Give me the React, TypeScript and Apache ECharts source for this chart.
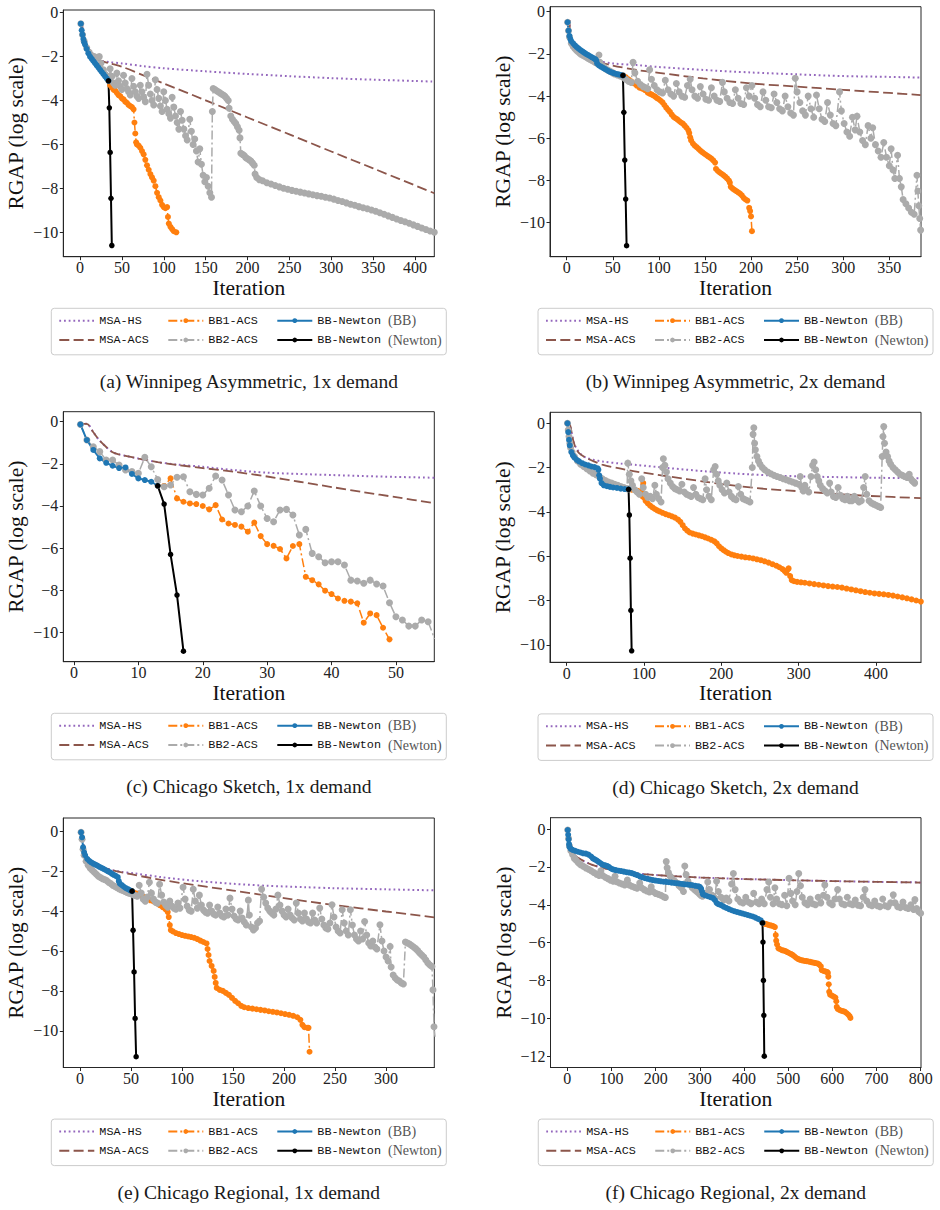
import React, { useEffect, useRef } from "react";
import * as echarts from "echarts";

type Pt = [number, number];

// ---------- (a) Winnipeg Asymmetric, 1x demand ----------
const aMsaHs: Pt[] = [[2,-0.4],[4,-1.0],[6,-1.3],[10,-1.6],[16,-1.93],[24,-2.17],[35,-2.25],[50,-2.31],[75,-2.43],[100,-2.53],[150,-2.67],[200,-2.79],[250,-2.89],[300,-2.98],[350,-3.05],[400,-3.11],[423,-3.14]];
const aMsaAcs: Pt[] = [[2,-0.4],[4,-1.0],[6,-1.3],[10,-1.6],[16,-1.93],[24,-2.17],[35,-2.3],[50,-2.46],[75,-2.84],[100,-3.22],[150,-3.99],[200,-4.77],[250,-5.54],[300,-6.32],[350,-7.09],[423,-8.22]];
const aBb1: Pt[] = [[34,-3.1],[36,-3.3],[38,-3.4],[40,-3.5],[42,-3.55],[44,-3.65],[46,-3.75],[48,-3.8],[50,-3.9],[52,-3.95],[54,-4.05],[56,-4.1],[58,-4.2],[60,-4.25],[62,-4.3],[64,-4.4],[65,-5.0],[66,-5.5],[67,-5.9],[68,-6.0],[70,-6.05],[72,-6.15],[74,-6.3],[76,-6.45],[78,-6.7],[80,-6.95],[82,-7.15],[84,-7.35],[86,-7.5],[88,-7.65],[90,-7.9],[92,-8.2],[94,-8.4],[96,-8.55],[98,-8.75],[100,-8.85],[102,-8.9],[104,-8.85],[105,-9.3],[106,-9.6],[108,-9.75],[110,-9.85],[112,-9.95],[115,-10.0]];
const aBb2: Pt[] = [[1,-0.5],[3,-1.0],[5,-1.3],[8,-1.6],[11,-1.8],[14,-1.95],[17,-2.0],[20,-2.05],[23,-2.0],[25,-2.3],[28,-2.6],[30,-2.8],[33,-2.9],[35,-3.0],[36,-2.55],[38,-2.9],[40,-3.2],[42,-3.3],[44,-2.75],[46,-3.1],[48,-3.35],[50,-3.5],[52,-2.85],[54,-3.2],[56,-3.45],[58,-3.6],[60,-3.75],[62,-3.0],[64,-3.35],[66,-3.6],[68,-3.8],[70,-3.9],[72,-3.3],[74,-3.6],[76,-3.85],[78,-4.05],[80,-2.8],[82,-3.3],[84,-3.7],[86,-4.0],[88,-4.2],[90,-3.05],[92,-3.5],[94,-3.9],[96,-4.25],[98,-4.5],[100,-3.6],[102,-4.0],[104,-4.4],[106,-4.6],[108,-4.8],[110,-3.85],[112,-4.3],[114,-4.7],[116,-5.0],[118,-5.3],[120,-4.5],[122,-4.9],[124,-5.3],[126,-5.6],[128,-5.8],[131,-4.85],[133,-5.4],[135,-6.0],[137,-5.75],[139,-6.3],[141,-6.8],[143,-6.2],[145,-6.9],[147,-7.4],[149,-7.7],[151,-7.5],[153,-7.9],[155,-8.2],[157,-8.4],[158,-4.5],[159,-3.45],[161,-3.5],[163,-3.55],[165,-3.6],[167,-3.65],[169,-3.7],[171,-3.75],[173,-3.8],[175,-3.9],[177,-4.0],[178,-4.35],[180,-4.7],[182,-4.85],[184,-4.95],[186,-5.05],[188,-5.2],[190,-5.35],[191,-5.7],[192,-6.4],[194,-6.45],[196,-6.5],[198,-6.6],[200,-6.65],[202,-6.7],[204,-6.75],[206,-6.85],[208,-6.95],[209,-7.35],[211,-7.5],[214,-7.6],[218,-7.65],[223,-7.74],[228,-7.8],[233,-7.87],[238,-7.93],[243,-7.99],[248,-8.04],[253,-8.09],[258,-8.13],[263,-8.17],[268,-8.21],[273,-8.25],[278,-8.29],[283,-8.33],[288,-8.36],[293,-8.4],[298,-8.44],[303,-8.49],[308,-8.55],[313,-8.6],[318,-8.66],[323,-8.72],[328,-8.77],[333,-8.83],[338,-8.88],[343,-8.93],[348,-8.98],[353,-9.04],[358,-9.11],[363,-9.18],[368,-9.25],[373,-9.32],[378,-9.39],[383,-9.46],[388,-9.52],[393,-9.59],[398,-9.66],[403,-9.73],[408,-9.8],[413,-9.87],[418,-9.94],[423,-10.0]];
const aNewtonBb: Pt[] = [[1,-0.5],[2,-0.8],[3,-1.0],[4,-1.2],[5,-1.35],[6,-1.45],[8,-1.65],[10,-1.85],[12,-2.0],[14,-2.1],[16,-2.2],[18,-2.3],[20,-2.4],[22,-2.5],[24,-2.6],[26,-2.7],[28,-2.8],[30,-2.9],[32,-3.0],[34,-3.1]];
const aNewtonN: Pt[] = [[34,-3.1],[35,-4.33],[36,-6.36],[37,-8.45],[38,-10.6]];

// ---------- (b) Winnipeg Asymmetric, 2x demand ----------
const bMsaHs: Pt[] = [[3,-0.4],[4,-1.2],[6,-1.5],[10,-1.8],[15,-2.0],[20,-2.12],[30,-2.3],[50,-2.45],[76,-2.53],[100,-2.62],[148,-2.76],[200,-2.88],[250,-2.97],[300,-3.05],[350,-3.09],[384,-3.12]];
const bMsaAcs: Pt[] = [[3,-0.4],[4,-1.2],[6,-1.5],[10,-1.78],[15,-2.0],[20,-2.12],[30,-2.32],[50,-2.55],[76,-2.76],[100,-2.9],[148,-3.16],[200,-3.4],[250,-3.55],[300,-3.7],[350,-3.85],[384,-3.95]];
const bBb1: Pt[] = [[61,-3.02],[64,-3.1],[67,-3.2],[70,-3.3],[73,-3.4],[76,-3.5],[79,-3.6],[82,-3.65],[85,-3.72],[88,-3.84],[90,-3.88],[92,-3.92],[94,-3.97],[96,-4.02],[98,-4.1],[100,-4.15],[102,-4.22],[104,-4.3],[106,-4.42],[108,-4.55],[110,-4.65],[112,-4.75],[114,-4.88],[116,-4.98],[118,-5.05],[120,-5.1],[122,-5.18],[124,-5.25],[126,-5.3],[128,-5.4],[130,-5.5],[132,-5.62],[133,-5.75],[134,-5.95],[135,-6.1],[137,-6.25],[139,-6.35],[141,-6.42],[143,-6.5],[145,-6.58],[147,-6.65],[149,-6.72],[151,-6.78],[153,-6.84],[155,-6.9],[157,-6.96],[159,-7.05],[161,-7.15],[162,-7.45],[164,-7.55],[166,-7.62],[168,-7.68],[170,-7.74],[172,-7.82],[174,-7.9],[176,-8.0],[177,-8.1],[178,-8.3],[180,-8.38],[182,-8.44],[184,-8.5],[186,-8.56],[188,-8.62],[190,-8.7],[192,-8.82],[194,-8.9],[196,-8.95],[198,-9.3],[199,-9.45],[200,-9.7],[201,-10.4]];
const bBb2: Pt[] = [[1,-0.5],[2,-0.9],[3,-1.2],[5,-1.5],[7,-1.65],[9,-1.75],[11,-1.85],[13,-1.92],[15,-2.0],[17,-2.05],[19,-2.1],[21,-2.15],[23,-2.2],[25,-2.25],[27,-2.3],[29,-2.35],[31,-2.4],[33,-2.45],[35,-2.05],[36,-2.4],[38,-2.55],[40,-2.6],[42,-2.7],[44,-2.75],[46,-2.8],[48,-2.85],[50,-2.9],[52,-2.95],[55,-3.0],[58,-3.05],[61,-3.1],[64,-3.2],[67,-3.3],[70,-3.35],[72,-2.4],[74,-2.9],[77,-3.3],[80,-3.45],[83,-3.55],[86,-3.6],[88,-3.65],[90,-2.75],[92,-3.2],[95,-3.5],[98,-3.7],[101,-3.8],[104,-3.85],[107,-3.25],[110,-3.7],[113,-3.9],[116,-4.0],[119,-3.4],[122,-3.8],[125,-4.0],[128,-4.05],[131,-3.5],[134,-3.2],[136,-3.7],[139,-4.0],[142,-4.1],[145,-3.55],[148,-3.9],[151,-4.15],[154,-4.2],[157,-3.6],[160,-4.0],[163,-4.2],[166,-4.25],[169,-3.35],[171,-3.8],[174,-4.1],[177,-4.3],[180,-4.35],[183,-3.7],[186,-4.1],[189,-4.35],[192,-4.4],[195,-3.6],[198,-4.0],[201,-3.5],[204,-4.1],[207,-4.4],[210,-4.5],[213,-3.8],[216,-4.2],[219,-4.5],[222,-4.55],[225,-3.9],[228,-4.3],[231,-4.6],[234,-4.7],[237,-4.0],[240,-4.5],[243,-4.8],[246,-4.9],[248,-3.15],[250,-3.8],[253,-4.3],[256,-4.7],[259,-4.9],[262,-4.0],[265,-4.6],[268,-5.0],[271,-3.95],[274,-4.6],[277,-5.1],[280,-5.2],[283,-4.3],[286,-4.9],[289,-5.3],[292,-5.4],[296,-3.8],[298,-4.7],[301,-5.3],[304,-5.7],[307,-5.9],[310,-5.0],[313,-5.6],[315,-4.95],[318,-5.7],[321,-6.1],[324,-6.3],[327,-5.4],[330,-6.0],[332,-5.5],[335,-6.3],[338,-6.6],[341,-6.9],[344,-6.2],[347,-6.9],[350,-7.3],[352,-6.5],[354,-7.5],[356,-7.9],[359,-6.8],[361,-7.9],[363,-8.3],[365,-8.9],[368,-9.1],[371,-9.3],[374,-9.5],[377,-9.6],[380,-7.75],[381,-8.5],[382,-9.2],[383,-9.8],[384,-10.35]];
const bNewtonBb: Pt[] = [[1,-0.5],[2,-0.9],[3,-1.15],[4,-1.3],[5,-1.4],[7,-1.5],[9,-1.6],[11,-1.68],[13,-1.75],[15,-1.82],[17,-1.88],[19,-1.94],[21,-2.0],[23,-2.05],[25,-2.1],[27,-2.15],[29,-2.2],[31,-2.25],[32,-2.3],[33,-2.45],[35,-2.55],[37,-2.6],[39,-2.65],[41,-2.7],[43,-2.75],[45,-2.8],[47,-2.85],[49,-2.88],[51,-2.91],[53,-2.94],[55,-2.96],[57,-2.98],[59,-3.0],[61,-3.02]];
const bNewtonN: Pt[] = [[61,-3.02],[62,-4.77],[63,-7.03],[64,-8.88],[65,-11.09]];

// ---------- (c) Chicago Sketch, 1x demand ----------
const cMsaHs: Pt[] = [[1,-0.1],[2,-0.1],[3,-0.5],[4,-0.9],[5,-1.2],[6,-1.45],[7,-1.55],[8,-1.62],[10,-1.75],[13,-1.92],[16,-2.03],[20,-2.14],[25,-2.3],[30,-2.42],[35,-2.48],[40,-2.53],[45,-2.58],[50,-2.62],[56,-2.66]];
const cMsaAcs: Pt[] = [[1,-0.1],[2,-0.1],[3,-0.5],[4,-0.9],[5,-1.2],[6,-1.45],[7,-1.55],[8,-1.62],[10,-1.75],[13,-1.92],[16,-2.05],[20,-2.2],[25,-2.38],[30,-2.6],[35,-2.85],[40,-3.1],[45,-3.35],[50,-3.58],[56,-3.87]];
const cBb1: Pt[] = [[13,-3.04],[14,-3.05],[15,-2.69],[16,-3.64],[17,-3.8],[18,-3.88],[19,-3.91],[20,-4.0],[21,-4.16],[22,-3.96],[23,-4.64],[24,-4.83],[25,-4.9],[26,-4.98],[27,-5.22],[28,-4.79],[29,-5.43],[30,-5.81],[31,-5.89],[32,-6.04],[33,-6.49],[34,-5.9],[35,-5.81],[36,-7.36],[37,-7.52],[38,-7.72],[39,-8.02],[40,-8.18],[41,-8.39],[42,-8.5],[43,-8.54],[44,-8.62],[45,-9.54],[46,-9.1],[47,-9.18],[48,-9.78],[49,-10.33]];
const cBb2: Pt[] = [[1,-0.13],[2,-0.87],[3,-1.19],[4,-1.42],[5,-1.82],[6,-1.82],[7,-2.06],[8,-2.29],[9,-2.37],[10,-2.45],[11,-1.69],[12,-2.14],[13,-2.74],[14,-3.09],[15,-3.0],[16,-2.64],[17,-2.61],[18,-3.32],[19,-3.45],[20,-3.48],[21,-3.16],[22,-2.58],[23,-2.77],[24,-3.48],[25,-4.19],[26,-4.27],[27,-4.0],[28,-3.29],[29,-4.0],[30,-4.59],[31,-4.75],[32,-4.19],[33,-4.16],[34,-4.43],[35,-5.38],[36,-5.11],[37,-6.25],[38,-6.41],[39,-6.69],[40,-6.65],[41,-6.65],[42,-6.8],[43,-7.52],[44,-7.56],[45,-7.67],[46,-7.52],[47,-7.7],[48,-7.8],[49,-8.59],[50,-9.26],[51,-9.41],[52,-9.7],[53,-9.7],[54,-9.41],[55,-9.49],[56,-10.3]];
const cNewtonBb: Pt[] = [[1,-0.13],[2,-0.87],[3,-1.34],[4,-1.74],[5,-1.95],[6,-2.09],[7,-2.2],[8,-2.17],[9,-2.48],[10,-2.69],[11,-2.77],[12,-2.85],[13,-3.04]];
const cNewtonN: Pt[] = [[13,-3.04],[14,-3.91],[15,-6.3],[16,-8.23],[17,-10.89]];

// ---------- (d) Chicago Sketch, 2x demand ----------
const dMsaHs: Pt[] = [[3,0],[5,-0.15],[7,-0.55],[9,-0.85],[12,-1.1],[16,-1.3],[20,-1.45],[26,-1.56],[35,-1.65],[47,-1.73],[70,-1.82],[90,-1.88],[134,-2.03],[177,-2.16],[220,-2.27],[263,-2.35],[306,-2.4],[349,-2.43],[400,-2.46],[458,-2.48]];
const dMsaAcs: Pt[] = [[3,0],[5,-0.15],[7,-0.55],[9,-0.85],[12,-1.15],[16,-1.35],[20,-1.45],[26,-1.58],[35,-1.72],[47,-1.88],[70,-2.05],[90,-2.18],[134,-2.41],[177,-2.63],[220,-2.83],[263,-2.98],[306,-3.08],[349,-3.19],[392,-3.28],[458,-3.38]];
const dBb1: Pt[] = [[80,-2.98],[84,-3.0],[88,-3.02],[92,-3.05],[96,-3.1],[98,-3.3],[99,-2.7],[100,-3.35],[102,-3.5],[105,-3.62],[108,-3.72],[111,-3.8],[114,-3.87],[117,-3.93],[120,-3.98],[124,-4.04],[128,-4.1],[132,-4.15],[136,-4.2],[140,-4.26],[144,-4.35],[147,-4.45],[150,-4.6],[153,-4.75],[156,-4.85],[159,-4.93],[163,-4.98],[167,-5.02],[171,-5.06],[175,-5.1],[179,-5.15],[183,-5.2],[187,-5.26],[191,-5.33],[194,-5.42],[197,-5.55],[200,-5.65],[203,-5.73],[206,-5.8],[209,-5.86],[213,-5.92],[217,-5.96],[221,-5.99],[226,-6.02],[231,-6.05],[236,-6.07],[241,-6.1],[246,-6.14],[251,-6.18],[256,-6.23],[261,-6.29],[266,-6.36],[271,-6.43],[275,-6.5],[279,-6.58],[282,-6.68],[284,-6.75],[286,-6.6],[287,-6.55],[289,-6.9],[291,-7.08],[294,-7.13],[298,-7.16],[303,-7.18],[308,-7.2],[314,-7.23],[320,-7.26],[326,-7.29],[332,-7.32],[338,-7.35],[344,-7.37],[350,-7.39],[356,-7.42],[362,-7.46],[368,-7.5],[374,-7.54],[380,-7.58],[386,-7.62],[392,-7.65],[398,-7.68],[404,-7.7],[410,-7.72],[416,-7.75],[422,-7.78],[428,-7.82],[434,-7.86],[440,-7.9],[446,-7.95],[452,-8.0],[458,-8.05]];
const dBb2: Pt[] = [[1,0],[2,-0.3],[3,-0.6],[4,-0.9],[5,-1.1],[7,-1.3],[10,-1.5],[14,-1.7],[18,-1.85],[22,-1.95],[26,-2.05],[30,-2.15],[34,-2.25],[38,-2.32],[42,-2.4],[46,-2.5],[50,-2.58],[54,-2.65],[58,-2.7],[62,-2.75],[66,-2.8],[70,-2.85],[74,-2.9],[78,-2.95],[79,-1.8],[81,-2.3],[83,-2.6],[85,-2.8],[88,-3.0],[91,-3.1],[94,-3.2],[97,-2.5],[99,-2.9],[102,-3.2],[105,-3.35],[108,-3.3],[111,-3.4],[114,-2.8],[116,-3.2],[119,-3.4],[122,-3.55],[124,-2.0],[125,-1.6],[127,-1.9],[129,-2.2],[131,-2.5],[134,-2.7],[137,-2.85],[140,-2.95],[143,-3.0],[146,-3.05],[149,-2.75],[152,-3.1],[155,-3.2],[158,-3.25],[161,-3.3],[164,-2.9],[167,-3.2],[170,-3.35],[173,-3.4],[176,-3.45],[179,-2.5],[181,-3.0],[184,-3.3],[187,-3.45],[190,-2.1],[192,-1.95],[194,-2.3],[196,-2.6],[198,-2.8],[201,-3.0],[204,-3.15],[207,-2.7],[210,-3.1],[213,-3.3],[216,-3.4],[219,-3.45],[222,-2.85],[225,-3.2],[228,-3.4],[231,-3.45],[234,-3.5],[237,-3.55],[240,-2.0],[241,-0.5],[242,-0.2],[243,-0.9],[244,-1.2],[246,-1.5],[248,-1.7],[250,-1.85],[253,-2.0],[256,-2.1],[260,-2.2],[264,-2.28],[268,-2.35],[272,-2.4],[276,-2.45],[280,-2.5],[284,-2.55],[288,-2.6],[292,-2.65],[296,-2.7],[300,-2.75],[302,-2.4],[304,-2.9],[306,-3.05],[308,-2.8],[310,-3.0],[313,-3.1],[316,-2.4],[318,-1.9],[320,-1.75],[322,-2.1],[324,-2.4],[326,-2.6],[328,-2.8],[331,-2.95],[334,-3.05],[337,-3.15],[340,-2.7],[342,-3.1],[345,-3.3],[348,-3.35],[351,-2.9],[354,-3.25],[357,-3.4],[360,-3.45],[363,-3.3],[366,-3.5],[369,-3.5],[372,-3.3],[375,-3.45],[378,-3.55],[381,-3.5],[384,-2.9],[386,-2.4],[388,-3.2],[391,-3.5],[394,-3.6],[397,-3.65],[400,-3.7],[403,-3.75],[406,-3.8],[408,-1.5],[409,-0.6],[410,-0.15],[411,-0.9],[413,-1.3],[415,-1.5],[417,-1.7],[419,-1.85],[422,-2.0],[425,-2.1],[428,-2.2],[431,-2.3],[434,-2.35],[437,-2.4],[440,-2.45],[443,-2.3],[445,-2.5],[447,-2.6],[449,-2.65],[450,-2.7]];
const dNewtonBb: Pt[] = [[1,0],[2,-0.4],[3,-0.75],[4,-1.0],[6,-1.3],[8,-1.45],[10,-1.55],[13,-1.65],[16,-1.72],[20,-1.8],[24,-1.86],[28,-1.9],[32,-1.95],[36,-1.98],[40,-2.03],[41,-2.1],[42,-2.35],[43,-2.5],[45,-2.7],[48,-2.8],[52,-2.84],[56,-2.87],[60,-2.9],[65,-2.92],[70,-2.95],[75,-2.97],[80,-2.98]];
const dNewtonN: Pt[] = [[80,-2.98],[81,-4.14],[82,-6.09],[83,-8.45],[84,-10.27]];

// ---------- (e) Chicago Regional, 1x demand ----------
const eMsaHs: Pt[] = [[1,0.05],[2,-0.3],[3,-0.6],[5,-1.0],[7,-1.25],[10,-1.45],[15,-1.62],[20,-1.75],[30,-1.93],[40,-2.03],[52,-2.1],[80,-2.3],[117,-2.5],[150,-2.63],[183,-2.73],[220,-2.8],[248,-2.85],[300,-2.91],[347,-2.96]];
const eMsaAcs: Pt[] = [[1,0.05],[2,-0.3],[3,-0.6],[5,-1.0],[7,-1.25],[10,-1.45],[15,-1.62],[20,-1.75],[30,-1.93],[40,-2.05],[50,-2.15],[70,-2.35],[100,-2.6],[150,-2.97],[200,-3.35],[250,-3.7],[300,-4.02],[347,-4.31]];
const eBb1: Pt[] = [[51,-3.0],[54,-3.1],[57,-3.15],[60,-3.22],[63,-3.3],[66,-3.4],[69,-3.46],[72,-3.52],[75,-3.6],[78,-3.7],[81,-3.8],[84,-3.92],[86,-4.05],[87,-4.3],[88,-4.7],[89,-4.95],[91,-5.02],[94,-5.1],[97,-5.15],[100,-5.2],[103,-5.24],[106,-5.27],[109,-5.3],[112,-5.34],[115,-5.4],[118,-5.48],[121,-5.55],[124,-5.62],[125,-5.9],[126,-6.2],[127,-6.5],[129,-6.75],[131,-7.0],[132,-7.3],[133,-7.6],[134,-7.85],[137,-7.95],[140,-8.0],[143,-8.1],[146,-8.2],[149,-8.35],[152,-8.5],[155,-8.62],[158,-8.75],[161,-8.82],[165,-8.86],[169,-8.89],[173,-8.92],[177,-8.95],[181,-8.98],[185,-9.02],[189,-9.05],[193,-9.08],[197,-9.12],[201,-9.16],[205,-9.2],[209,-9.25],[213,-9.32],[216,-9.45],[218,-9.7],[220,-9.82],[223,-9.85],[224,-9.85],[225,-11.05]];
const eBb2: Pt[] = [[1,-0.05],[2,-0.4],[3,-0.9],[4,-1.2],[6,-1.5],[8,-1.7],[10,-1.85],[12,-1.95],[14,-2.05],[16,-2.15],[18,-2.25],[20,-2.32],[22,-2.38],[24,-2.42],[26,-2.47],[28,-2.55],[30,-2.62],[32,-2.7],[34,-2.75],[36,-2.82],[38,-2.88],[40,-2.93],[42,-2.97],[44,-3.02],[46,-3.06],[48,-3.1],[50,-3.13],[52,-3.18],[54,-3.22],[56,-3.25],[58,-2.7],[60,-3.1],[62,-3.4],[64,-3.5],[66,-3.3],[68,-2.55],[70,-3.1],[72,-3.4],[74,-3.55],[76,-3.6],[78,-2.65],[80,-3.2],[82,-3.55],[84,-3.7],[86,-3.8],[88,-3.5],[90,-3.75],[92,-3.85],[94,-3.9],[96,-3.6],[98,-3.85],[101,-2.8],[103,-3.4],[105,-3.75],[107,-3.95],[109,-4.0],[111,-2.9],[113,-3.5],[115,-3.85],[117,-3.2],[119,-3.7],[121,-3.95],[123,-4.05],[125,-4.1],[127,-3.7],[129,-4.0],[131,-4.15],[133,-4.2],[135,-3.8],[137,-4.1],[139,-4.25],[141,-4.3],[143,-3.9],[145,-4.2],[147,-3.35],[149,-3.9],[151,-4.25],[153,-4.4],[155,-4.45],[157,-4.0],[159,-4.35],[161,-4.55],[163,-4.7],[165,-3.45],[166,-4.2],[168,-4.8],[170,-4.95],[172,-4.85],[174,-4.6],[176,-4.5],[178,-2.9],[180,-3.3],[182,-3.6],[184,-3.85],[186,-4.0],[188,-4.1],[190,-4.2],[192,-3.9],[194,-3.2],[196,-3.7],[198,-4.0],[200,-4.2],[202,-4.3],[204,-3.9],[206,-4.2],[208,-4.35],[210,-4.45],[212,-3.6],[214,-4.1],[216,-4.4],[218,-4.5],[220,-4.1],[222,-4.4],[224,-4.55],[226,-4.6],[228,-4.1],[230,-4.45],[232,-4.6],[235,-3.85],[237,-4.4],[239,-4.7],[241,-4.85],[243,-4.9],[245,-4.6],[247,-3.68],[249,-4.3],[251,-4.8],[253,-5.0],[255,-5.1],[257,-3.93],[259,-4.6],[261,-5.0],[263,-5.2],[265,-3.93],[267,-4.7],[269,-5.2],[271,-5.4],[273,-5.5],[275,-5.0],[277,-5.4],[279,-4.52],[281,-5.2],[283,-5.6],[285,-5.75],[287,-5.5],[289,-5.8],[291,-5.9],[294,-4.68],[296,-5.5],[298,-6.0],[300,-6.3],[302,-6.5],[304,-5.77],[305,-6.8],[307,-7.2],[309,-7.35],[311,-7.45],[313,-7.5],[315,-7.6],[317,-7.65],[319,-5.55],[321,-5.6],[323,-5.65],[325,-5.72],[327,-5.8],[329,-5.88],[331,-5.98],[333,-6.1],[335,-6.2],[337,-6.3],[339,-6.45],[341,-6.6],[343,-6.7],[345,-6.78],[346,-7.95],[347,-9.8],[348,-10.3]];
const eNewtonBb: Pt[] = [[1,-0.05],[2,-0.3],[3,-0.8],[4,-1.05],[5,-1.2],[7,-1.38],[9,-1.48],[11,-1.56],[13,-1.62],[15,-1.67],[17,-1.72],[19,-1.78],[21,-1.83],[23,-1.88],[25,-1.94],[27,-2.0],[29,-2.05],[31,-2.12],[33,-2.18],[35,-2.23],[37,-2.3],[38,-2.5],[39,-2.62],[41,-2.7],[43,-2.78],[45,-2.85],[47,-2.9],[49,-2.96],[51,-3.0]];
const eNewtonN: Pt[] = [[51,-3.0],[52,-4.96],[53,-7.05],[54,-9.38],[55,-11.3]];

// ---------- (f) Chicago Regional, 2x demand ----------
const fMsaHs: Pt[] = [[2,0],[4,-0.55],[6,-0.95],[10,-1.2],[15,-1.35],[20,-1.45],[30,-1.6],[45,-1.78],[60,-1.92],[80,-2.05],[100,-2.15],[130,-2.27],[160,-2.35],[200,-2.43],[250,-2.5],[300,-2.56],[400,-2.64],[500,-2.7],[600,-2.75],[700,-2.79],[800,-2.82]];
const fMsaAcs: Pt[] = [[2,0],[4,-0.55],[6,-0.95],[10,-1.2],[15,-1.35],[20,-1.45],[30,-1.6],[45,-1.78],[60,-1.92],[80,-2.05],[100,-2.15],[130,-2.27],[160,-2.35],[200,-2.43],[250,-2.5],[300,-2.56],[400,-2.64],[500,-2.7],[600,-2.75],[700,-2.79],[800,-2.83]];
const fBb1: Pt[] = [[442,-4.96],[446,-5.0],[450,-5.02],[454,-5.05],[458,-5.08],[462,-5.1],[466,-5.13],[470,-5.18],[472,-5.6],[473,-5.9],[475,-6.1],[478,-6.3],[482,-6.35],[486,-6.4],[490,-6.42],[494,-6.45],[498,-6.5],[502,-6.55],[506,-6.6],[510,-6.65],[514,-6.72],[518,-6.8],[522,-6.86],[526,-6.9],[530,-6.93],[534,-6.95],[538,-6.97],[542,-6.98],[546,-7.0],[550,-7.02],[554,-7.04],[558,-7.06],[562,-7.08],[566,-7.1],[570,-7.15],[574,-7.25],[576,-7.45],[580,-7.5],[584,-7.52],[588,-7.55],[590,-7.6],[591,-7.8],[592,-8.2],[593,-8.6],[595,-8.75],[599,-8.8],[603,-8.85],[607,-8.9],[609,-9.1],[610,-9.4],[612,-9.5],[616,-9.55],[620,-9.6],[624,-9.62],[628,-9.65],[632,-9.72],[636,-9.8],[639,-9.88],[641,-9.98]];
const fBb2: Pt[] = [[1,-0.05],[3,-0.5],[5,-0.9],[8,-1.15],[12,-1.35],[16,-1.55],[20,-1.65],[25,-1.78],[30,-1.88],[36,-1.97],[42,-2.05],[48,-2.12],[54,-2.2],[60,-2.3],[66,-2.38],[72,-2.45],[76,-2.2],[80,-2.45],[86,-2.55],[92,-2.62],[98,-2.7],[104,-2.75],[108,-2.5],[112,-2.78],[118,-2.85],[124,-2.9],[130,-2.95],[136,-2.7],[140,-2.95],[146,-3.02],[152,-3.08],[158,-3.12],[164,-2.85],[168,-3.1],[174,-3.2],[180,-3.27],[186,-3.32],[190,-3.05],[194,-3.3],[200,-3.4],[206,-3.45],[212,-3.5],[218,-3.58],[222,-3.62],[224,-1.72],[226,-2.05],[229,-2.3],[233,-2.5],[238,-2.65],[243,-2.75],[248,-2.85],[253,-3.0],[258,-3.1],[263,-3.3],[266,-1.95],[269,-2.4],[273,-2.75],[278,-2.95],[283,-3.1],[288,-3.2],[293,-3.3],[298,-3.4],[302,-3.5],[306,-3.55],[312,-3.4],[318,-2.8],[322,-3.2],[328,-3.5],[334,-3.65],[338,-2.76],[342,-3.3],[348,-3.6],[354,-3.75],[360,-3.65],[366,-3.8],[372,-2.9],[376,-2.35],[380,-3.2],[386,-3.7],[392,-3.85],[398,-3.9],[404,-3.6],[410,-3.85],[416,-3.95],[422,-3.4],[428,-3.85],[434,-3.95],[440,-3.7],[446,-3.95],[452,-3.2],[456,-2.8],[460,-3.6],[466,-3.95],[470,-3.1],[474,-3.7],[480,-3.95],[486,-4.0],[492,-3.5],[497,-4.05],[502,-2.6],[506,-3.4],[510,-3.8],[516,-4.0],[520,-3.3],[524,-2.35],[528,-3.0],[532,-3.6],[538,-3.9],[544,-4.0],[550,-3.7],[556,-3.95],[562,-4.0],[568,-3.6],[574,-3.9],[580,-3.5],[583,-2.95],[588,-3.6],[594,-3.9],[600,-4.0],[606,-3.7],[612,-3.2],[616,-3.7],[622,-3.95],[628,-4.0],[634,-3.6],[640,-3.95],[646,-4.0],[652,-3.75],[658,-4.02],[664,-4.05],[670,-3.6],[674,-3.2],[678,-3.8],[684,-4.0],[690,-4.05],[696,-3.8],[702,-4.05],[708,-4.1],[714,-3.7],[720,-4.05],[726,-4.1],[732,-3.9],[738,-3.47],[742,-3.9],[748,-4.1],[754,-4.15],[760,-3.85],[766,-4.15],[772,-4.2],[778,-4.0],[784,-4.25],[787,-3.73],[791,-4.2],[795,-4.35],[800,-4.45]];
const fNewtonBb: Pt[] = [[1,-0.05],[2,-0.3],[3,-0.55],[4,-0.8],[5,-0.95],[8,-1.05],[12,-1.1],[18,-1.15],[24,-1.2],[30,-1.24],[36,-1.28],[42,-1.3],[48,-1.35],[54,-1.45],[58,-1.55],[62,-1.6],[66,-1.65],[70,-1.72],[74,-1.78],[78,-1.85],[82,-1.9],[86,-1.92],[90,-1.95],[94,-2.0],[98,-2.07],[102,-2.12],[106,-2.15],[110,-2.17],[116,-2.2],[122,-2.22],[128,-2.25],[134,-2.28],[140,-2.3],[146,-2.33],[152,-2.38],[158,-2.43],[164,-2.5],[170,-2.55],[176,-2.6],[182,-2.63],[188,-2.67],[194,-2.7],[200,-2.72],[206,-2.74],[212,-2.76],[218,-2.78],[224,-2.79],[230,-2.81],[236,-2.83],[242,-2.85],[248,-2.86],[254,-2.88],[260,-2.9],[266,-2.92],[272,-2.93],[278,-2.95],[284,-2.97],[290,-3.0],[296,-3.02],[300,-3.05],[303,-3.15],[305,-3.3],[307,-3.45],[312,-3.5],[318,-3.55],[324,-3.6],[330,-3.65],[334,-3.75],[338,-3.9],[342,-3.97],[348,-4.02],[354,-4.1],[360,-4.17],[366,-4.23],[372,-4.29],[378,-4.34],[384,-4.38],[390,-4.42],[396,-4.46],[402,-4.5],[408,-4.54],[414,-4.58],[420,-4.62],[426,-4.68],[432,-4.75],[438,-4.82],[442,-4.96]];
const fNewtonN: Pt[] = [[442,-4.96],[443,-5.97],[444,-8.0],[445,-9.84],[446,-12.0]];

// ---------- tick labels ----------
const aXTicks = [0, 50, 100, 150, 200, 250, 300, 350, 400];
const bXTicks = [0, 50, 100, 150, 200, 250, 300, 350];
const cXTicks = [0, 10, 20, 30, 40, 50];
const dXTicks = [0, 100, 200, 300, 400];
const eXTicks = [0, 50, 100, 150, 200, 250, 300];
const fXTicks = [0, 100, 200, 300, 400, 500, 600, 700, 800];
const yTicks10 = [0, -2, -4, -6, -8, -10];
const yTicks12 = [0, -2, -4, -6, -8, -10, -12];

const SERIES_NAMES = ["MSA-HS", "MSA-ACS", "BB1-ACS", "BB2-ACS", "BB-Newton (BB)", "BB-Newton (Newton)"];

const CAPTIONS = [
  "(a) Winnipeg Asymmetric, 1x demand",
  "(b) Winnipeg Asymmetric, 2x demand",
  "(c) Chicago Sketch, 1x demand",
  "(d) Chicago Sketch, 2x demand",
  "(e) Chicago Regional, 1x demand",
  "(f) Chicago Regional, 2x demand",
];

// plot frame [left, top, right, bottom] in px, plus axis extents
const PANELS = [
  { frame: [63.3, 10, 434.3, 256.7], x: [-19.94, 423], y: [-11.11, 0.123], xTicks: aXTicks, yTicks: yTicks10,
    lines: [aMsaHs, aMsaAcs, aBb1, aBb2, aNewtonBb, aNewtonN] },
  { frame: [550, 6.7, 921, 256.7], x: [-18.1, 384.4], y: [-11.61, 0.237], xTicks: bXTicks, yTicks: yTicks10,
    lines: [bMsaHs, bMsaAcs, bBb1, bBb2, bNewtonBb, bNewtonN] },
  { frame: [63.3, 411.7, 434.3, 661.7], x: [-1.66, 55.96], y: [-11.39, 0.475], xTicks: cXTicks, yTicks: yTicks10,
    lines: [cMsaHs, cMsaAcs, cBb1, cBb2, cNewtonBb, cNewtonN] },
  { frame: [550, 412.3, 921, 662.3], x: [-21.6, 458.2], y: [-10.79, 0.496], xTicks: dXTicks, yTicks: yTicks10,
    lines: [dMsaHs, dMsaAcs, dBb1, dBb2, dNewtonBb, dNewtonN] },
  { frame: [63.3, 818, 434.3, 1067.5], x: [-16.4, 347.3], y: [-11.84, 0.667], xTicks: eXTicks, yTicks: yTicks10,
    lines: [eMsaHs, eMsaAcs, eBb1, eBb2, eNewtonBb, eNewtonN] },
  { frame: [550.5, 817.7, 921, 1067.5], x: [-38, 800.8], y: [-12.6, 0.6], xTicks: fXTicks, yTicks: yTicks12,
    lines: [fMsaHs, fMsaAcs, fBb1, fBb2, fNewtonBb, fNewtonN] },
];

const STYLES = [
  { color: "#9467bd", width: 2, dash: [1.8, 2.9] as any, size: 0 },
  { color: "#8c564b", width: 1.8, dash: [10, 4.3] as any, size: 0 },
  { color: "#ff7f0e", width: 1.5, dash: [9, 3, 2, 3] as any, size: 6 },
  { color: "#ababab", width: 1.5, dash: [9, 3, 2, 3] as any, size: 7 },
  { color: "#1f77b4", width: 2, dash: "solid" as any, size: 6 },
  { color: "#000000", width: 2, dash: "solid" as any, size: 5.5 },
];

const SERIF = '"Liberation Serif", "DejaVu Serif", serif';
const MONO = '"Liberation Mono", "DejaVu Sans Mono", monospace';
const AXIS_COLOR = "#262626";

const minusFmt = (v: number) => (v < 0 ? "\u2212" + Math.abs(v) : String(v));

const legendLabel = (name: string) => {
  const m = name.match(/^(.*) (\(.*\))$/);
  return m ? `{m|${m[1]}} {s|${m[2]}}` : `{m|${name}}`;
};

function buildOption() {
  const grid: any[] = [];
  const xAxis: any[] = [];
  const yAxis: any[] = [];
  const series: any[] = [];
  const legend: any[] = [];
  const elements: any[] = [];

  PANELS.forEach((p, i) => {
    const [l, t, r, b] = p.frame;
    grid.push({
      left: l, top: t, width: r - l, height: b - t,
      show: true, borderColor: AXIS_COLOR, borderWidth: 1, backgroundColor: "transparent",
    });
    xAxis.push({
      gridIndex: i, type: "value", min: p.x[0], max: p.x[1], position: "bottom",
      name: "Iteration", nameLocation: "middle", nameGap: 20,
      nameTextStyle: { fontFamily: SERIF, fontSize: 21.5, color: "#111" },
      axisLine: { show: true, onZero: false, lineStyle: { color: AXIS_COLOR, width: 1 } },
      axisTick: { show: true, length: 3.5, customValues: p.xTicks, lineStyle: { color: AXIS_COLOR } },
      axisLabel: { customValues: p.xTicks, margin: 3, fontFamily: SERIF, fontSize: 16, color: "#222", formatter: minusFmt },
      splitLine: { show: false },
    });
    yAxis.push({
      gridIndex: i, type: "value", min: p.y[0], max: p.y[1], position: "left",
      name: "RGAP (log scale)", nameLocation: "middle", nameGap: 36, nameRotate: 90,
      nameTextStyle: { fontFamily: SERIF, fontSize: 21.5, color: "#111" },
      axisLine: { show: true, onZero: false, lineStyle: { color: AXIS_COLOR, width: 1 } },
      axisTick: { show: true, length: 3.5, customValues: p.yTicks, lineStyle: { color: AXIS_COLOR } },
      axisLabel: { customValues: p.yTicks, margin: 5, fontFamily: SERIF, fontSize: 16, color: "#222", formatter: minusFmt },
      splitLine: { show: false },
    });

    p.lines.forEach((data, k) => {
      const st = STYLES[k];
      series.push({
        name: SERIES_NAMES[k], type: "line", xAxisIndex: i, yAxisIndex: i, data,
        symbol: st.size ? "circle" : "none", symbolSize: st.size, showSymbol: st.size > 0,
        smooth: st.size ? false : 0.3,
        lineStyle: { color: st.color, width: st.width, type: st.dash },
        itemStyle: { color: st.color },
        clip: true, silent: true,
      });
    });

    // legend: three columns of two entries, inside a rounded frame
    const cx = (l + r) / 2;
    const bx = cx - 197.5;
    const by = b + 51.6;
    elements.push({
      type: "rect", silent: true,
      shape: { x: bx, y: by, width: 395, height: 46.5, r: 3 },
      style: { fill: "none", stroke: "#cccccc", lineWidth: 1 },
    });
    [[0, 1], [2, 3], [4, 5]].forEach((pair, c) => {
      legend.push({
        orient: "vertical", left: bx + [7, 116, 225][c], top: by + 5.4, padding: 0,
        itemWidth: 35, itemHeight: 6, itemGap: 5.3, selectedMode: false,
        data: pair.map((k) => (k < 2 ? { name: SERIES_NAMES[k], itemStyle: { opacity: 0 } } : { name: SERIES_NAMES[k] })),
        formatter: legendLabel,
        textStyle: {
          fontFamily: MONO, fontSize: 11.8, color: "#111", lineHeight: 14,
          rich: {
            m: { fontFamily: MONO, fontSize: 11.8, color: "#111", lineHeight: 14 },
            s: { fontFamily: SERIF, fontSize: 14, color: "#555", lineHeight: 14 },
          },
        },
      });
    });

    elements.push({
      type: "text", silent: true, x: cx, y: b + 125,
      style: {
        text: CAPTIONS[i], font: `19.5px ${SERIF}`, fill: "#1a1a1a",
        textAlign: "center", textVerticalAlign: "middle", align: "center", verticalAlign: "middle",
      },
    });
  });

  return {
    animation: false,
    backgroundColor: "#ffffff",
    grid, xAxis, yAxis, series, legend,
    graphic: { elements },
  };
}

export default function App() {
  const ref = useRef<HTMLDivElement | null>(null);
  useEffect(() => {
    if (!ref.current) return;
    const chart = echarts.init(ref.current, null, { renderer: "svg" });
    chart.setOption(buildOption() as any);
    return () => chart.dispose();
  }, []);
  return (
    <div
      ref={ref}
      style={{ position: "absolute", left: 0, top: 0, width: 940, height: 1210, background: "#fff" }}
    />
  );
}
